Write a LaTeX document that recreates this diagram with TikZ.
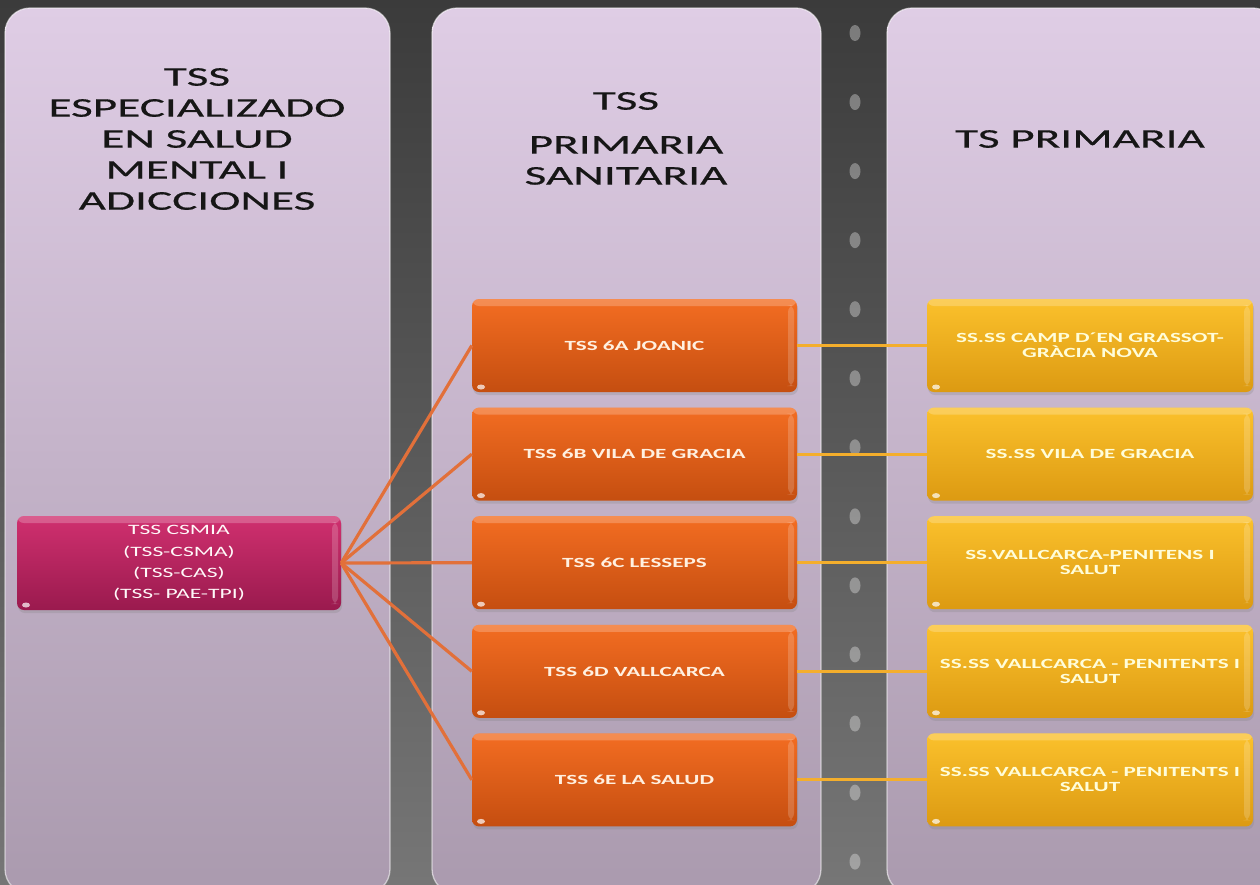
\documentclass[tikz,border=0pt]{standalone}
\usepackage{fontspec}
\usetikzlibrary{shadows}
\newfontfamily\hdfont[FakeStretch=1.75,FakeBold=0.5]{Carlito}
\newfontfamily\bxfont[FakeStretch=1.65]{Carlito}
\definecolor{bgTop}{HTML}{3B3B3B}
\definecolor{bgBot}{HTML}{767676}
\definecolor{colTop}{HTML}{DFCDE5}
\definecolor{colBot}{HTML}{AA9AAE}
\definecolor{pinkTop}{HTML}{D0306F}
\definecolor{pinkBot}{HTML}{9A1A4E}
\definecolor{oraTop}{HTML}{F36D22}
\definecolor{oraBot}{HTML}{C54E10}
\definecolor{yelTop}{HTML}{FBC12C}
\definecolor{yelBot}{HTML}{DC9A12}
\definecolor{oraLine}{HTML}{E2703A}
\definecolor{yelLine}{HTML}{F4AE2C}
\definecolor{hdText}{HTML}{161616}
\tikzset{
  colpanel/.style={rounded corners=25pt, top color=colTop, bottom color=colBot,
    draw=white, draw opacity=0.55, line width=1.3pt},
  header/.style={align=center, text=hdText, inner sep=0pt,
    font=\hdfont\fontsize{27}{31}\selectfont},
  gloss/.style={path picture={
      \fill[white,opacity=0.22] (path picture bounding box.north west) rectangle
        ([yshift=-7pt]path picture bounding box.north east);
      \fill[white,opacity=0.18] ([xshift=-9pt,yshift=-6pt]path picture bounding box.north east) rectangle
        ([xshift=-3pt,yshift=6pt]path picture bounding box.south east);
      \fill[white,opacity=0.7] ([xshift=9pt,yshift=5pt]path picture bounding box.south west) ellipse (4pt and 2.5pt);
  }},
  boxbase/.style={rectangle, rounded corners=7pt, minimum width=325pt, minimum height=93pt,
    align=center, inner sep=0pt, gloss,
    drop shadow={opacity=0.25, shadow xshift=1pt, shadow yshift=-3pt}},
  pinkbox/.style={boxbase, minimum width=324pt, minimum height=94pt, top color=pinkTop, bottom color=pinkBot,
    text=white!90!pink, font=\bxfont\fontsize{14.3}{21.3}\selectfont},
  orabox/.style={boxbase, top color=oraTop, bottom color=oraBot,
    text=white!88!orange, font=\bxfont\bfseries\fontsize{14}{15}\selectfont},
  yelbox/.style={boxbase, minimum width=326pt, top color=yelTop, bottom color=yelBot,
    text=white!85!yellow, font=\bxfont\bfseries\fontsize{14}{15}\selectfont},
  oraconn/.style={draw=oraLine, line width=3.2pt},
  yelconn/.style={draw=yelLine, line width=3pt},
}
\begin{document}
\begin{tikzpicture}[x=1pt,y=-1pt]
\useasboundingbox (0,0) rectangle (1260,884);
\clip (0,0) rectangle (1260,884);
% background
\shade[top color=bgTop, bottom color=bgBot] (0,0) rectangle (1260,884);
% columns
\path[colpanel] (5,8) rectangle (390,894);
\path[colpanel] (432,8) rectangle (821,894);
\path[colpanel] (887,8) rectangle (1278,894);
% dots between columns 2 and 3
\foreach \i in {0,...,12} {
  \fill[white, opacity=0.33] (855,{33+69.05*\i}) ellipse (5.5pt and 8pt);
}
% headers
\node[header] (h1) at (197,139) {TSS\\ESPECIALIZADO\\EN SALUD\\MENTAL I\\ADICCIONES};
\node[header] (h2a) at (626,101) {TSS};
\node[header] (h2b) at (626,160.5) {PRIMARIA\\SANITARIA};
\node[header] (h3) at (1080,139) {TS PRIMARIA};
% boxes
\node[pinkbox] (p) at (179,563) {TSS CSMIA\\(TSS-CSMA)\\(TSS-CAS)\\(TSS- PAE-TPI)};
\node[orabox] (o1) at (634.5,345.5) {TSS 6A JOANIC};
\node[orabox] (o2) at (634.5,454.1) {TSS 6B VILA DE GRACIA};
\node[orabox] (o3) at (634.5,562.7) {TSS 6C LESSEPS};
\node[orabox] (o4) at (634.5,671.3) {TSS 6D VALLCARCA};
\node[orabox] (o5) at (634.5,779.9) {TSS 6E LA SALUD};
\node[yelbox] (y1) at (1090,345.5) {SS.SS CAMP D´EN GRASSOT-\\GRÀCIA NOVA};
\node[yelbox] (y2) at (1090,454.1) {SS.SS VILA DE GRACIA};
\node[yelbox] (y3) at (1090,562.7) {SS.VALLCARCA-PENITENS I\\SALUT};
\node[yelbox] (y4) at (1090,671.3) {SS.SS VALLCARCA - PENITENTS I\\SALUT};
\node[yelbox] (y5) at (1090,779.9) {SS.SS VALLCARCA - PENITENTS I\\SALUT};
% connectors
\foreach \k in {1,...,5} {
  \draw[oraconn] (p.east) -- (o\k.west);
  \draw[yelconn] (o\k.east) -- (y\k.west);
}
\end{tikzpicture}
\end{document}
